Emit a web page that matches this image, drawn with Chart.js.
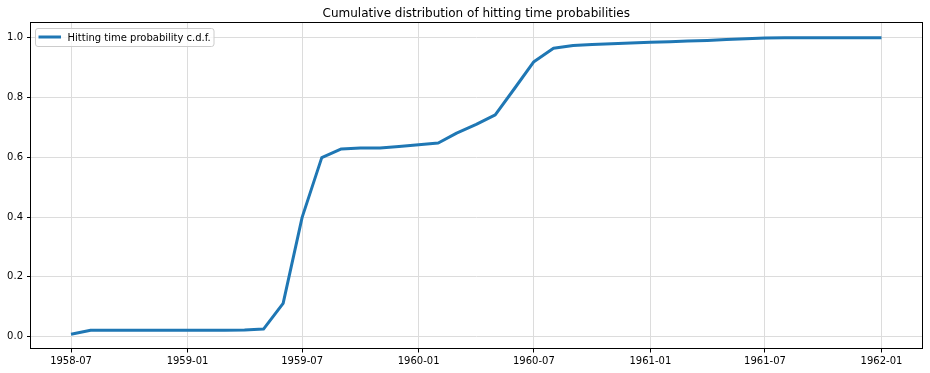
<!DOCTYPE html>
<html>
<head>
<meta charset="utf-8">
<script src="https://cdn.jsdelivr.net/npm/chart.js@4"></script>
<style>
html,body{margin:0;padding:0;background:#fff;}
canvas{display:block;}
</style>
</head>
<body>
<canvas id="c" width="930" height="373"></canvas>
<script>
// ---- data ----
const months = [
 '1958-07','1958-08','1958-09','1958-10','1958-11','1958-12',
 '1959-01','1959-02','1959-03','1959-04','1959-05','1959-06',
 '1959-07','1959-08','1959-09','1959-10','1959-11','1959-12',
 '1960-01','1960-02','1960-03','1960-04','1960-05','1960-06',
 '1960-07','1960-08','1960-09','1960-10','1960-11','1960-12',
 '1961-01','1961-02','1961-03','1961-04','1961-05','1961-06',
 '1961-07','1961-08','1961-09','1961-10','1961-11','1961-12',
 '1962-01'
];
const cdfValues = [
 0.008,0.021,0.021,0.021,0.021,0.021,
 0.021,0.021,0.021,0.022,0.025,0.111,
 0.399,0.599,0.628,0.631,0.631,0.636,
 0.642,0.648,0.681,0.710,0.742,0.832,
 0.920,0.965,0.974,0.978,0.980,0.983,
 0.985,0.987,0.989,0.991,0.994,0.997,
 0.999,1.000,1.000,1.000,1.000,1.000,
 1.000
];
const xTickLabels = ['1958-07','1959-01','1959-07','1960-01','1960-07','1961-01','1961-07','1962-01'];
const yTickValues = [0.0,0.2,0.4,0.6,0.8,1.0];
const seriesLabel = 'Hitting time probability c.d.f.';
const titleText = 'Cumulative distribution of hitting time probabilities';

// ---- helpers ----
function dayNum(s){ const p=s.split('-'); return Date.UTC(+p[0], +p[1]-1, 1)/86400000; }
const points = months.map((m,i)=>({x:dayNum(m), y:cdfValues[i]}));
const xTickVals = xTickLabels.map(dayNum);
const xLabelMap = {}; xTickLabels.forEach(l=>{ xLabelMap[dayNum(l)] = l; });
const x0 = dayNum(months[0]), x1 = dayNum(months[months.length-1]);
const xPad = (x1-x0)*0.05;
const yLo = Math.min(...cdfValues), yHi = Math.max(...cdfValues);
const yPad = (yHi-yLo)*0.05;

const FONT = 'DejaVu Sans';
const GRID = '#dcdcdc';

const frame = {
  id:'frame',
  afterDatasetsDraw(chart){
    const {ctx, chartArea:a} = chart;
    ctx.save();
    // spines
    const L = Math.floor(a.left)+0.5, R = Math.round(a.right)+0.5, T = Math.round(a.top)-0.5, B = Math.round(a.bottom)-0.5;
    ctx.strokeStyle = '#000'; ctx.lineWidth = 1;
    ctx.strokeRect(L, T, R-L, B-T);
    // title centered over the plot area
    ctx.fillStyle='#000'; ctx.font = '12px "'+FONT+'"'; ctx.textAlign='center'; ctx.textBaseline='alphabetic';
    ctx.fillText(titleText, (a.left+a.right)/2, 17);
    // legend
    const ds = chart.data.datasets[0];
    const bx = a.left+5, by = a.top+5.5, bw = 178.5, bh = 18, r = 2.5;
    ctx.beginPath();
    ctx.moveTo(bx+r,by); ctx.lineTo(bx+bw-r,by); ctx.quadraticCurveTo(bx+bw,by,bx+bw,by+r);
    ctx.lineTo(bx+bw,by+bh-r); ctx.quadraticCurveTo(bx+bw,by+bh,bx+bw-r,by+bh);
    ctx.lineTo(bx+r,by+bh); ctx.quadraticCurveTo(bx,by+bh,bx,by+bh-r);
    ctx.lineTo(bx,by+r); ctx.quadraticCurveTo(bx,by,bx+r,by);
    ctx.closePath();
    ctx.fillStyle='rgba(255,255,255,0.8)'; ctx.fill();
    ctx.strokeStyle='#cccccc'; ctx.lineWidth=1; ctx.stroke();
    ctx.beginPath(); ctx.moveTo(bx+3, by+8.5); ctx.lineTo(bx+25.5, by+8.5);
    ctx.strokeStyle = ds.borderColor; ctx.lineWidth = 3; ctx.stroke();
    ctx.fillStyle='#000'; ctx.font = '10px "'+FONT+'"'; ctx.textBaseline='alphabetic'; ctx.textAlign='left';
    ctx.fillText(ds.label, bx+32, by+12.5);
    ctx.restore();
  }
};

new Chart(document.getElementById('c'), {
  type:'line',
  data:{ datasets:[{
    label: seriesLabel, data: points,
    borderColor:'#1f77b4', borderWidth:3, pointRadius:0, pointHoverRadius:0,
    tension:0, fill:false, borderJoinStyle:'round', borderCapStyle:'butt'
  }]},
  options:{
    responsive:false, animation:false, devicePixelRatio:1,
    parsing:false,
    layout:{ padding:{left:0,right:8,top:23,bottom:0} },
    plugins:{
      legend:{display:false}, tooltip:{enabled:false}, title:{display:false}
    },
    scales:{
      x:{ type:'linear', min:x0-xPad, max:x1+xPad,
        afterBuildTicks(s){ s.ticks = xTickVals.map(v=>({value:v})); },
        afterFit(s){ s.height = 24; },
        ticks:{ autoSkip:false, maxRotation:0, color:'#000', padding:3,
          font:{family:FONT,size:10}, callback:(v)=>xLabelMap[v] },
        grid:{ color:GRID, lineWidth:1, tickColor:'#000', tickLength:3.5, drawTicks:true },
        border:{ display:false }
      },
      y:{ type:'linear', min:yLo-yPad, max:yHi+yPad,
        afterBuildTicks(s){ s.ticks = yTickValues.map(v=>({value:v})); },
        afterFit(s){ s.width = 30.5; },
        ticks:{ color:'#000', padding:4, font:{family:FONT,size:10}, callback:(v)=>v.toFixed(1) },
        grid:{ color:GRID, lineWidth:1, tickColor:'#000', tickLength:3.5, drawTicks:true },
        border:{ display:false }
      }
    }
  },
  plugins:[frame]
});
</script>
</body>
</html>
